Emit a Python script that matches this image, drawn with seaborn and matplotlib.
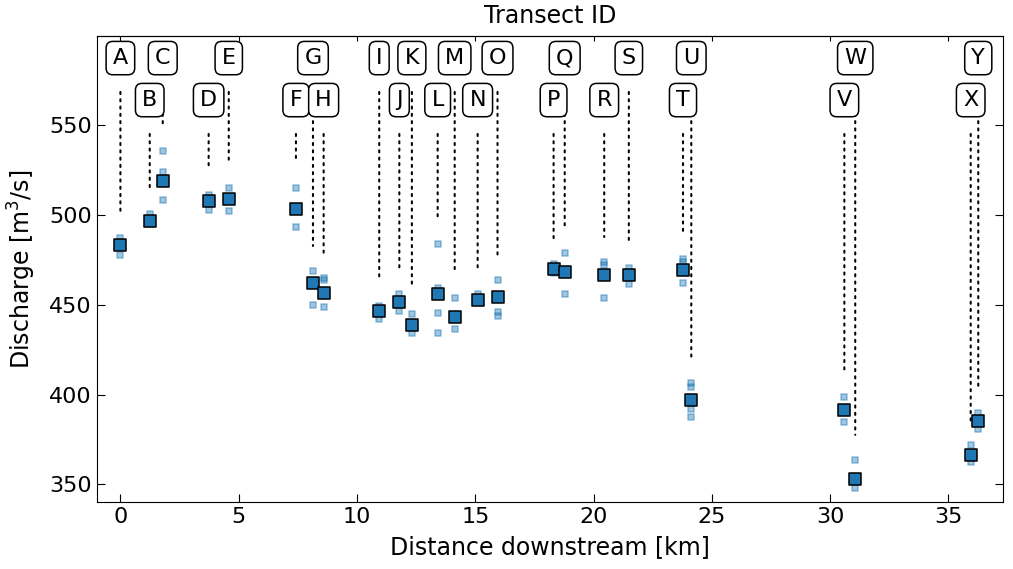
import numpy as np
import pandas as pd
import seaborn as sns
import matplotlib.pyplot as plt

# transect labels and distance downstream [km]
transect_ids = list("ABCDEFGHIJKLMNOPQRSTUVWXY")
distance_km = [0.0, 1.24, 1.79, 3.73, 4.58, 7.42, 8.14, 8.59, 10.94, 11.79,
               12.32, 13.41, 14.13, 15.10, 15.94, 18.31, 18.78, 20.45, 21.49,
               23.78, 24.13, 30.60, 31.06, 35.94, 36.26]

# mean discharge per transect [m3/s]
mean_q = [483.2, 496.7, 519.3, 507.8, 509.1, 503.5, 462.4, 456.5, 446.7, 451.7,
          438.9, 455.9, 443.5, 452.8, 454.4, 469.8, 468.3, 466.7, 466.7, 469.3,
          397.2, 391.5, 353.2, 366.5, 385.2]

# individual measurements per transect [m3/s]
single_q = [
    [487.0, 484.0, 477.6],
    [500.4, 495.0],
    [535.6, 524.1, 508.7],
    [511.5, 503.1],
    [515.2, 502.2],
    [515.4, 493.3],
    [468.9, 450.0],
    [465.2, 463.7, 448.9],
    [449.4, 442.0],
    [455.9, 446.7],
    [445.2, 434.6],
    [483.7, 459.6, 445.4, 434.6],
    [454.1, 436.5],
    [456.3, 452.0],
    [463.9, 446.1, 443.9],
    [472.6, 468.0],
    [479.1, 456.3],
    [473.9, 472.2, 454.1],
    [470.7, 461.8],
    [475.4, 474.0, 462.4],
    [406.5, 404.1, 392.0, 387.4],
    [398.9, 384.6],
    [363.7, 348.2],
    [371.7, 362.4],
    [389.8, 380.9],
]

means = pd.DataFrame({'id': transect_ids, 'dist': distance_km, 'q': mean_q})
singles = pd.DataFrame(
    [(d, v) for d, vals in zip(distance_km, single_q) for v in vals],
    columns=['dist', 'q'])

plt.rcParams['font.family'] = ['DejaVu Sans']
plt.rcParams['font.size'] = 16

fig = plt.figure(figsize=(10.13, 5.69), dpi=100)
ax = fig.add_axes([0.0955, 0.1172, 0.8945, 0.8201])

sns.scatterplot(data=singles, x='dist', y='q', marker='s', s=22,
                color='tab:blue', edgecolor='tab:blue', linewidth=1.2,
                alpha=0.42, ax=ax, zorder=2)
sns.scatterplot(data=means, x='dist', y='q', marker='s', s=80,
                color='tab:blue', edgecolor='black', linewidth=1.1,
                ax=ax, zorder=3)

ax.set_xlim(-1, 37.3)
ax.set_ylim(340, 600)
ax.set_yticks([350, 400, 450, 500, 550])
ax.set_xticks([0, 5, 10, 15, 20, 25, 30, 35])
ax.tick_params(axis='both', direction='in', length=6, right=True)
ax.set_xlabel('Distance downstream [km]', fontsize=17, labelpad=6)
ax.set_ylabel('Discharge [m$^3$/s]', fontsize=17, labelpad=8)

secax = ax.secondary_xaxis('top')
secax.set_xticks([0, 5, 10, 15, 20, 25, 30, 35])
secax.tick_params(direction='in', labeltop=False)
secax.set_xlabel('Transect ID', fontsize=17, labelpad=9)

# labels: top row first, so bottom row boxes cover the lines passing behind
row_y = {0: 0.952, 1: 0.862}
order = list(range(0, len(transect_ids), 2)) + list(range(1, len(transect_ids), 2))
for i in order:
    ax.annotate(transect_ids[i],
                xy=(distance_km[i], max(single_q[i])), xycoords='data',
                xytext=(distance_km[i], row_y[i % 2]),
                textcoords=('data', 'axes fraction'),
                ha='center', va='center', fontsize=16,
                bbox=dict(boxstyle='round,pad=0.3', fc='white', ec='black', lw=1.1),
                arrowprops=dict(arrowstyle='-', linestyle=(0, (1, 2.5)), lw=1.5,
                                color='black', shrinkA=12, shrinkB=18),
                zorder=4)

fig.savefig('out.png', dpi=100)
